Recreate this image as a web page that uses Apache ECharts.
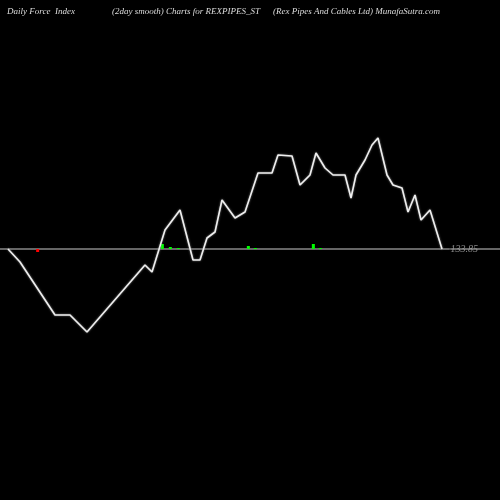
<!DOCTYPE html><html><head><script src="https://cdn.jsdelivr.net/npm/echarts@6/dist/echarts.min.js"></script>
<style>body{margin:0;background:#000}#c{width:500px;height:500px}</style></head><body><div id="c"></div><script>
const lineX=[8,20,55,70,75,87,145,152,165,180,193,200,207,215,222,235,245,258,272,278,292,300,310,316,325,333,345,351,356,365,372,378,387,393,402,408,415,421,430,442];
const lineY=[0,-13,-66,-66,-71,-83,-16,-23,19,39,-11,-11,11,17,49,31,37,76,76,94,93,64,74,96,81,74,74,51,74,89,104,111,74,64,61,37,54,29,39,0];
const greenX=[164,172,180,250,257,315,322];
const greenH=[5,2,1,3,1,5,1];
const redX=[36];
const redH=[-3];
const lastLabel="133.85";
const ch=echarts.init(document.getElementById('c'));
const ts={color:'#ddd',fontFamily:'Liberation Serif',fontStyle:'italic',fontWeight:'normal',fontSize:9};
ch.setOption({backgroundColor:'#000',animation:false,
title:[{text:'Daily Force  Index',left:2,top:0,textStyle:ts},{text:'(2day smooth) Charts for REXPIPES_ST',left:107,top:0,textStyle:ts},{text:'(Rex Pipes And Cables Ltd) MunafaSutra.com',left:268,top:0,textStyle:ts}],
grid:{left:0,right:0,top:0,bottom:0},
xAxis:{type:'value',min:0,max:500,show:false},
yAxis:{type:'value',min:-251,max:249,show:false},
series:[
{type:'line',data:[[0,0],[500,0]],symbol:'none',lineStyle:{color:'#888',width:1.5},z:1},
{type:'bar',data:greenX.map((x,i)=>[x,greenH[i]]),barWidth:3,itemStyle:{color:'#0f0'},z:2},
{type:'bar',data:redX.map((x,i)=>[x,redH[i]]),barWidth:3,itemStyle:{color:'#f00'},z:2},
{type:'line',data:lineX.map((x,i)=>[x,lineY[i]]),symbol:'none',lineStyle:{color:'#eee',width:1.6,shadowColor:'#888',shadowBlur:2},z:3},
{type:'scatter',data:[[450,0]],symbolSize:1,itemStyle:{color:'#000'},label:{show:true,formatter:lastLabel,position:'right',distance:0,color:'#aaa',fontFamily:'Liberation Serif',fontStyle:'italic',fontSize:10},z:4}
]});
</script></body></html>
